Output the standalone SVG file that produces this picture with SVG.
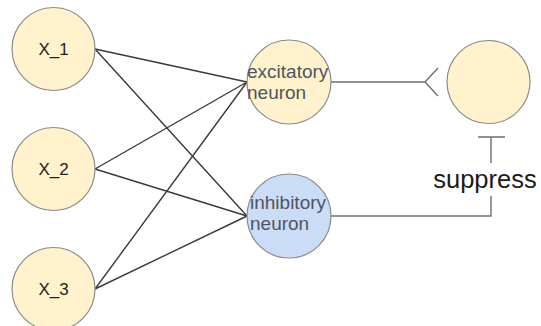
<svg xmlns="http://www.w3.org/2000/svg" width="541" height="326" viewBox="0 0 541 326">
<style>
.node{stroke:#8a8a8a;stroke-width:1.2}
.yel{fill:#fff2cc}
.blu{fill:#cbdcf7}
.lbl{font-family:"Liberation Sans",Arial,sans-serif;fill:#222}
.nl{font-family:"Liberation Sans",Arial,sans-serif;fill:#4f5560;font-size:19px}
.edge{stroke:#3a3a3a;stroke-width:1.4;fill:none}
.edge2{stroke:#6e6e6e;stroke-width:1.4;fill:none}
</style>
<rect width="541" height="326" fill="#ffffff"/>
<g id="connectors">
<line class="edge" x1="95" y1="49" x2="247" y2="82"/>
<line class="edge" x1="95" y1="49" x2="247" y2="216"/>
<line class="edge" x1="95" y1="169" x2="247" y2="82"/>
<line class="edge" x1="95" y1="169" x2="247" y2="216"/>
<line class="edge" x1="95" y1="289" x2="247" y2="82"/>
<line class="edge" x1="95" y1="289" x2="247" y2="216"/>
<path class="edge2" d="M331 82 H425 M438 68 L425 82 L438 96"/>
<path class="edge2" d="M331 216 H491 V196 M491 163 V137 M478 137 H505"/>
<text x="485" y="188" text-anchor="middle" font-family="Liberation Sans,Arial,sans-serif" font-size="25.5" fill="#1a1a1a">suppress</text>
</g>
<g id="x1"><circle class="node yel" cx="53.5" cy="49" r="41.5"/><text class="lbl" x="53.5" y="55" font-size="17" text-anchor="middle">X_1</text></g>
<g id="x2"><circle class="node yel" cx="53.5" cy="169" r="41.5"/><text class="lbl" x="53.5" y="175" font-size="17" text-anchor="middle">X_2</text></g>
<g id="x3"><circle class="node yel" cx="53.5" cy="289" r="41.5"/><text class="lbl" x="53.5" y="295" font-size="17" text-anchor="middle">X_3</text></g>
<g id="excitatory"><circle class="node yel" cx="289" cy="82" r="42"/><text class="nl" x="247" y="78">excitatory</text><text class="nl" x="247" y="99">neuron</text></g>
<g id="inhibitory"><circle class="node blu" cx="289" cy="216" r="42"/><text class="nl" x="250" y="209">inhibitory</text><text class="nl" x="250" y="230">neuron</text></g>
<g id="target"><circle class="node yel" cx="488.5" cy="82" r="41.5"/></g>
</svg>
